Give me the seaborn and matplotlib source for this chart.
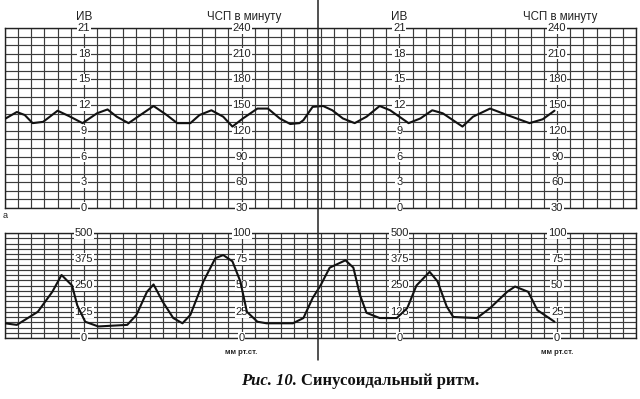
import numpy as np
import pandas as pd
import matplotlib
matplotlib.use("Agg")
import matplotlib.pyplot as plt
import seaborn as sns
from matplotlib.lines import Line2D

# strip time in grid columns (48 columns over the whole strip)
fhr_t = [0.0, 0.9, 1.5, 2.1, 2.9, 4.0, 4.9, 5.9, 7.0, 7.8, 8.5, 9.4, 10.3, 11.3,
         12.3, 13.1, 14.1, 14.8, 15.7, 16.6, 17.3, 18.1, 19.2, 20.0, 20.9, 21.7,
         22.4, 22.7, 23.4, 24.2, 24.9, 25.7, 26.6, 27.5, 28.5, 29.3, 30.7, 31.6,
         32.5, 33.3, 34.8, 35.6, 36.9, 38.2, 39.9, 40.9, 41.8]
fhr_bpm = [134, 142, 138.5, 129, 130.5, 143.5, 137, 129, 140.5, 145, 136.5, 129,
           138.5, 149, 138.5, 129, 129, 138.5, 144, 136.5, 125, 134.5, 146, 146,
           134.5, 128, 129, 132.5, 148, 149, 144, 134.5, 129, 136.5, 149, 144,
           129, 134.5, 144, 140.5, 125, 136.5, 146, 138.5, 129, 133.5, 143.5]

uc_t = [0.0, 0.9, 2.5, 3.6, 4.3, 5.1, 5.5, 6.1, 7.1, 9.3, 10.0, 10.8, 11.3, 12.0,
        12.8, 13.5, 14.1, 15.1, 16.0, 16.6, 17.3, 17.9, 18.4, 19.2, 19.9, 21.9,
        22.7, 23.4, 24.0, 24.7, 25.9, 26.5, 27.0, 27.5, 28.5, 29.8, 30.6, 31.3,
        32.3, 32.9, 33.6, 34.1, 35.9, 36.9, 38.2, 38.8, 39.8, 40.5, 41.8]
uc_mmhg = [14, 12.5, 25, 44, 60, 50, 31, 15.5, 11, 12.5, 22, 44, 51, 34.5, 19, 14,
           22, 54, 76, 79, 73, 54, 25, 15.5, 14, 14, 19, 38, 50, 67, 74, 67, 41,
           24, 19, 19, 28.5, 50, 63, 54, 30, 20, 19, 28.5, 44, 49, 44, 26.5, 15.5]

iv_labels = [0, 3, 6, 9, 12, 15, 18, 21]
hr_labels = [30, 60, 90, 120, 150, 180, 210, 240]
uc_left_labels = [0, 125, 250, 375, 500]
uc_right_labels = [0, 25, 50, 75, 100]

fhr = pd.DataFrame({"t": fhr_t, "bpm": fhr_bpm})
uc = pd.DataFrame({"t": uc_t, "mmhg": uc_mmhg})

sns.set_style("white")
plt.rcParams["font.family"] = ["Liberation Sans", "DejaVu Sans"]

W, H = 640, 399
fig = plt.figure(figsize=(6.4, 3.99), dpi=100)


def px_axes(x0, y0, x1, y1):
    return fig.add_axes([x0 / W, 1 - y1 / H, (x1 - x0) / W, (y1 - y0) / H])


grid_kw = dict(color="#3c3c3c", lw=0.85)
lab_kw = dict(ha="center", va="center", fontsize=8, color="#222",
              clip_on=False, zorder=3,
              bbox=dict(facecolor="white", edgecolor="none", pad=0.6))

# top panel: heart rate
ax1 = px_axes(5, 28, 636, 208)
sns.lineplot(data=fhr, x="t", y="bpm", ax=ax1, color="#111", lw=1.5,
             zorder=6, sort=False)
ax1.set_xlim(0, 48)
ax1.set_ylim(30, 240)
ax1.set_xticks(np.arange(0, 49, 1))
ax1.set_yticks(np.arange(30, 241, 10))
ax1.grid(True, **grid_kw)

for c in (6, 30):
    for v in iv_labels:
        ax1.text(c, 30 + 10 * v, str(v), **lab_kw)
    ax1.text(c, 253, "ИВ", ha="center", va="center", fontsize=8.5,
             color="#222", clip_on=False)
for c in (18, 42):
    for v in hr_labels:
        ax1.text(c, v, str(v), **lab_kw)
    ax1.text(c + 0.2, 253, "ЧСП в минуту", ha="center", va="center",
             fontsize=8.3, color="#222", clip_on=False)

# bottom panel: uterine pressure
ax2 = px_axes(5, 233, 636, 338)
sns.lineplot(data=uc, x="t", y="mmhg", ax=ax2, color="#111", lw=1.5,
             zorder=6, sort=False)
ax2.set_xlim(0, 48)
ax2.set_ylim(0, 100)
ax2.set_xticks(np.arange(0, 49, 1))
ax2.set_yticks(np.arange(0, 101, 5))
ax2.grid(True, **grid_kw)

for c in (6, 30):
    for v, pos in zip(uc_left_labels, uc_right_labels):
        ax2.text(c, pos, str(v), **lab_kw)
for c in (18, 42):
    for v in uc_right_labels:
        ax2.text(c, v, str(v), **lab_kw)
    ax2.text(c, -14, "мм рт.ст.", ha="center", va="center", fontsize=5.5,
             fontweight="bold", color="#222", clip_on=False)

for ax in (ax1, ax2):
    ax.set_xlabel("")
    ax.set_ylabel("")
    ax.set_axisbelow(True)
    ax.tick_params(length=0, labelbottom=False, labelleft=False)
    for s in ax.spines.values():
        s.set_color("#222")
        s.set_linewidth(1.0)

ax1.text(-0.2, 18, "а", fontsize=6.5, color="#222", clip_on=False)

# divider between the two sheets
fig.add_artist(Line2D([318 / W, 318 / W], [1, 1 - 360 / H], color="#222",
                      lw=1.1, transform=fig.transFigure))

# caption
fig.text(297 / W, 1 - 381 / H, "Рис. 10.", ha="right", va="center",
         fontsize=12, fontweight="bold", fontstyle="italic",
         family=["Liberation Serif", "DejaVu Serif"], color="#111")
fig.text(301 / W, 1 - 381 / H, "Синусоидальный ритм.", ha="left",
         va="center", fontsize=12, fontweight="bold",
         family=["Liberation Serif", "DejaVu Serif"], color="#111")

fig.savefig("out.png", dpi=100)
